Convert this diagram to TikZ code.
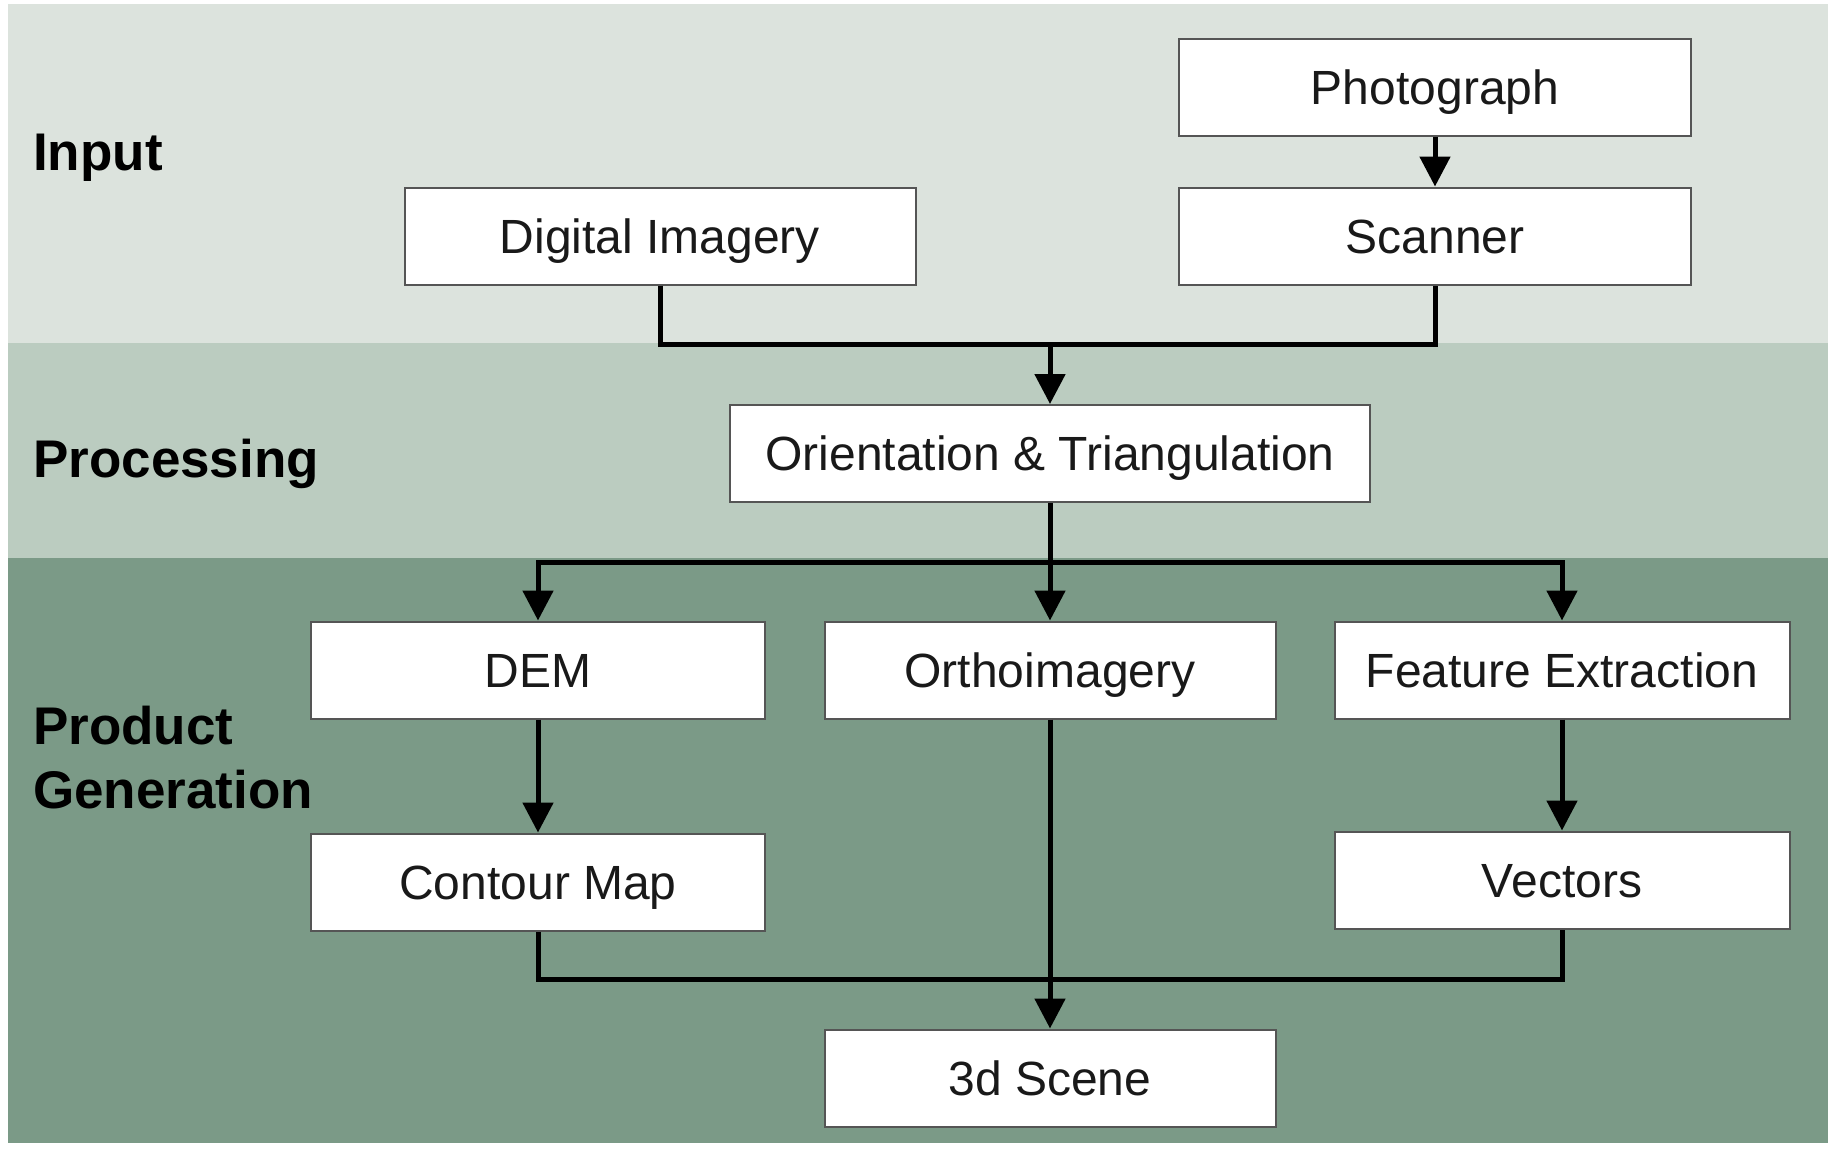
\documentclass[tikz,border=0pt]{standalone}
\usepackage{fontspec}
\setmainfont{Liberation Sans}
\usetikzlibrary{arrows.meta}
\definecolor{bandA}{HTML}{DCE3DD}
\definecolor{bandB}{HTML}{BBCCC0}
\definecolor{bandC}{HTML}{7B9A87}
\definecolor{boxline}{HTML}{555555}
\begin{document}
\begin{tikzpicture}[x=1pt,y=-1pt,
  box/.style={draw=boxline,line width=2pt,fill=white,minimum height=97pt,inner sep=0pt,
     font=\fontsize{48}{57}\selectfont,text=black!90,text height=44.6pt,text depth=10pt},
  band/.style={font=\fontsize{53}{64}\selectfont\bfseries,anchor=west,align=left,inner sep=0pt},
  conn/.style={line width=5pt,black},
  arr/.style={conn,-{Triangle[width=30pt,length=30pt]}}]
\useasboundingbox (0,0) rectangle (1831,1152);
\fill[white] (0,0) rectangle (1831,1152);
\fill[bandA] (8,4) rectangle (1828,343);
\fill[bandB] (8,343) rectangle (1828,558);
\fill[bandC] (8,558) rectangle (1828,1143);
\node[band] (lin) at (33,158) {Input};
\node[band] (lproc) at (33,464) {Processing};
\node[band] (lprod) at (33,758) {Product\\Generation};
\node[box,minimum width=512pt] (photo) at (1435,87) {Photograph};
\node[box,minimum width=512pt] (scan) at (1435,236) {Scanner};
\node[box,minimum width=511pt] (dig) at (660,236) {Digital Imagery};
\node[box,minimum width=640pt] (orient) at (1050,453.5) {Orientation \& Triangulation};
\node[box,minimum width=454pt] (dem) at (538,670) {DEM};
\node[box,minimum width=451pt] (ortho) at (1050,670) {Orthoimagery};
\node[box,minimum width=455pt] (feat) at (1562,670) {Feature Extraction};
\node[box,minimum width=454pt] (cont) at (538,882) {Contour Map};
\node[box,minimum width=455pt] (vect) at (1562,880) {Vectors};
\node[box,minimum width=451pt] (scene) at (1050,1078) {3d Scene};
\coordinate (j1) at (1050,344);
\coordinate (j2) at (1050,562);
\coordinate (j3) at (1050,979);
\draw[arr] (photo) -- (scan);
\draw[conn] (dig.south) |- (j1) -| (scan.south);
\draw[arr] (j1) -- (orient.north);
\draw[conn] (orient.south) -- (j2);
\draw[arr] (j2) -| (dem.north);
\draw[arr] (j2) -| (feat.north);
\draw[arr] (j2) -- (ortho.north);
\draw[arr] (dem) -- (cont);
\draw[arr] (feat) -- (vect);
\draw[conn] (cont.south) |- (j3) -| (vect.south);
\draw[arr] (ortho) -- (scene);
\end{tikzpicture}
\end{document}
